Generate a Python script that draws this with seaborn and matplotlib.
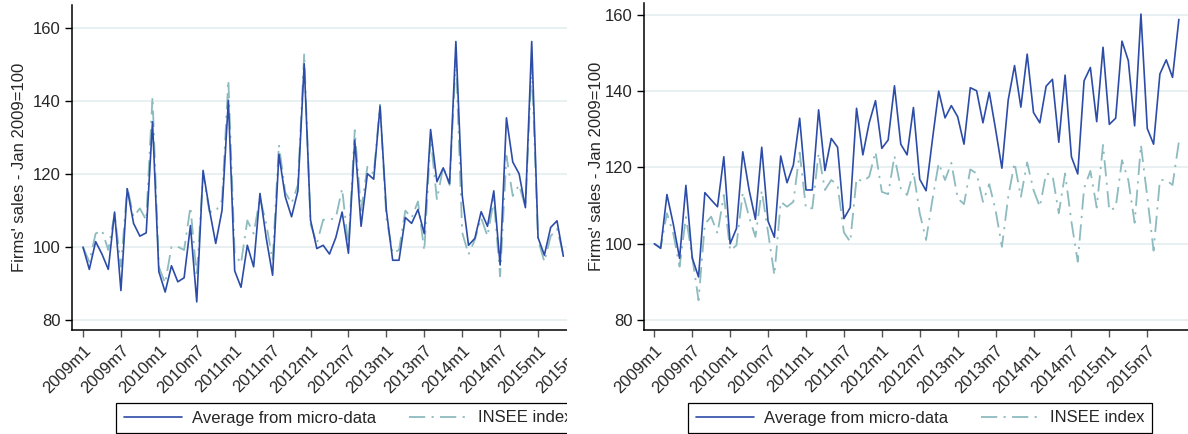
import matplotlib
matplotlib.use("Agg")
import matplotlib.pyplot as plt
from matplotlib.patches import Rectangle
from matplotlib.lines import Line2D
import numpy as np
import pandas as pd
import seaborn as sns

# ---- data: firms' sales index, Jan 2009 = 100 (monthly) ----
tick_labels = ["2009m1", "2009m7", "2010m1", "2010m7", "2011m1", "2011m7",
               "2012m1", "2012m7", "2013m1", "2013m7", "2014m1", "2014m7",
               "2015m1", "2015m7"]

# Left panel: seasonal series
left_micro = [100.0, 93.9, 101.5, 98.1, 93.9, 109.6, 88.1, 116.0, 106.5, 103.0,
              103.9, 134.3, 93.3, 87.7, 94.9, 90.5, 91.6, 105.9, 85.0, 121.0,
              110.3, 101.0, 110.1, 140.2, 93.5, 89.0, 100.5, 94.6, 114.7, 102.4,
              92.3, 125.4, 113.8, 108.3, 115.4, 150.2, 107.4, 99.6, 100.5, 98.1,
              102.6, 109.6, 98.3, 129.3, 105.7, 120.1, 118.6, 138.6, 110.1, 96.4,
              96.4, 108.1, 106.5, 110.3, 103.7, 132.2, 117.9, 121.7, 117.4, 156.3,
              114.2, 100.5, 102.4, 109.7, 105.7, 115.4, 95.1, 135.4, 123.3, 120.1,
              110.8, 156.3, 102.6, 97.8, 105.4, 107.2, 97.5]
left_insee = [100.0, 96.0, 103.7, 104.6, 99.2, 109.2, 94.6, 116.5, 108.3, 110.6,
              107.4, 141.1, 94.6, 90.1, 100.1, 100.1, 99.2, 111.0, 91.9, 120.1,
              109.7, 109.7, 112.9, 145.7, 98.3, 95.5, 107.3, 103.7, 113.5, 106.3,
              96.4, 128.0, 115.0, 112.0, 117.0, 153.0, 106.3, 101.0, 107.5, 107.5,
              108.0, 116.0, 100.1, 132.0, 110.0, 122.0, 120.0, 139.0, 108.0, 98.3,
              99.2, 110.0, 108.0, 112.5, 99.0, 130.0, 113.0, 122.0, 117.0, 152.0,
              104.0, 98.0, 102.0, 108.0, 103.0, 113.0, 92.0, 125.0, 114.0, 117.0,
              111.0, 150.0, 102.0, 96.0, 103.0, 105.0, 98.0]

# Right panel: trending series
right_micro = [100.0, 98.8, 112.9, 105.2, 96.2, 115.3, 96.3, 91.3, 113.4, 111.5,
               109.7, 122.8, 100.0, 104.0, 124.1, 114.1, 106.4, 125.3, 105.9, 101.7,
               123.0, 116.0, 120.6, 132.9, 114.1, 114.1, 135.1, 119.2, 127.6, 125.3,
               106.6, 109.5, 135.5, 123.3, 131.7, 137.5, 125.0, 127.2, 141.4, 126.1,
               123.3, 135.7, 116.9, 113.9, 127.2, 140.0, 133.0, 136.2, 133.3, 126.1,
               140.9, 140.1, 131.7, 139.7, 130.0, 119.8, 137.7, 146.7, 135.8, 149.7,
               134.4, 131.7, 141.3, 143.1, 126.6, 144.2, 122.8, 118.3, 142.7, 146.2,
               132.0, 151.5, 131.3, 132.9, 153.1, 148.0, 130.9, 160.2, 130.2, 126.1,
               144.5, 148.2, 143.6, 158.8]
right_insee = [100.0, 99.0, 108.0, 102.7, 94.0, 107.0, 96.6, 85.2, 105.2, 107.1,
               102.7, 112.8, 98.2, 99.6, 113.4, 107.0, 101.8, 113.9, 103.0, 91.8,
               111.0, 109.7, 111.0, 123.9, 109.3, 109.3, 123.7, 114.1, 116.7, 115.4,
               103.0, 100.5, 117.1, 116.3, 117.6, 124.1, 113.6, 113.0, 123.0, 114.5,
               112.8, 118.9, 108.0, 101.0, 111.5, 121.1, 116.7, 121.2, 111.9, 110.4,
               119.5, 118.4, 111.0, 115.6, 108.8, 99.2, 112.3, 121.2, 112.3, 121.3,
               114.1, 109.7, 118.4, 118.0, 108.0, 118.4, 105.8, 95.3, 114.5, 119.1,
               109.5, 125.9, 108.7, 109.5, 121.9, 116.7, 105.5, 125.9, 112.3, 98.2,
               116.7, 116.7, 115.4, 126.7]

labels = ["Average from micro-data", "INSEE index"]

# ---- style ----
sns.set_theme(style="white")
plt.rcParams["font.family"] = ["Liberation Sans", "DejaVu Sans"]

C_MICRO = "#2C4CA8"
C_INSEE = "#8DBBBF"
GRID = "#E9F0F2"
DASHDOT = (0, (9, 3.5, 1.2, 3.5))

W, H = 1188, 434
fig = plt.figure(figsize=(W / 100, H / 100), dpi=100)


def frac_box(x0, x1, ytop, ybot):
    return [x0 / W, 1 - ybot / H, (x1 - x0) / W, (ybot - ytop) / H]


def draw_panel(ax, micro, insee, xlim, ylim, ylabelpad):
    df = pd.DataFrame({
        "month": np.concatenate([np.arange(len(micro)), np.arange(len(insee))]),
        "value": np.concatenate([micro, insee]),
        "series": [labels[0]] * len(micro) + [labels[1]] * len(insee),
    })
    sns.lineplot(data=df[df.series == labels[1]], x="month", y="value", ax=ax,
                 color=C_INSEE, lw=1.3, linestyle=DASHDOT, legend=False)
    sns.lineplot(data=df[df.series == labels[0]], x="month", y="value", ax=ax,
                 color=C_MICRO, lw=1.2, legend=False)
    ax.set_xlim(*xlim)
    ax.set_ylim(*ylim)
    ax.set_yticks([80, 100, 120, 140, 160])
    ax.yaxis.grid(True, color=GRID, lw=1.4)
    ax.set_axisbelow(True)
    ax.set_xticks(np.arange(len(tick_labels)) * 6)
    ax.set_xticklabels(tick_labels, rotation=45, ha="right",
                       rotation_mode="anchor", fontsize=12)
    ax.tick_params(axis="y", labelsize=12, length=5, width=1, color="black",
                   left=True, pad=3)
    ax.tick_params(axis="x", length=5, width=1, color="#555555", bottom=True,
                   pad=4)
    for s in ["top", "right"]:
        ax.spines[s].set_visible(False)
    for s in ["left", "bottom"]:
        ax.spines[s].set_color("black")
        ax.spines[s].set_linewidth(1.1)
    ax.set_xlabel("")
    ax.set_ylabel("Firms' sales - Jan 2009=100", fontsize=12,
                  labelpad=ylabelpad)


handles = [Line2D([], [], color=C_MICRO, lw=1.2),
           Line2D([], [], color=C_INSEE, lw=1.3, linestyle=DASHDOT)]

ax1 = fig.add_axes(frac_box(72, 586, 5, 330))
draw_panel(ax1, left_micro, left_insee,
           (-1.74, (586 - 83) / 6.32), (77.3, 166.3), ylabelpad=4)
ax1.set_zorder(0)

ax2 = fig.add_axes(frac_box(644, 1188, 3, 330))
draw_panel(ax2, right_micro, right_insee,
           (-1.63, (1188 - 654.3) / 6.32), (77.4, 163.1), ylabelpad=1)
ax2.set_zorder(2)

leg_kw = dict(ncol=2, frameon=True, fancybox=False, fontsize=12,
              handlelength=3.5, handletextpad=0.6, columnspacing=2.0,
              borderpad=0.45, borderaxespad=0, edgecolor="black", framealpha=1)
leg1 = ax1.legend(handles, labels, loc="lower left",
                  bbox_to_anchor=(116 / W, 1 / H, 0.5, 0.1),
                  bbox_transform=fig.transFigure, **leg_kw)
leg1.get_frame().set_linewidth(0.9)
leg2 = ax2.legend(handles, labels, loc="lower left",
                  bbox_to_anchor=(688 / W, 1 / H, 0.5, 0.1),
                  bbox_transform=fig.transFigure, **leg_kw)
leg2.get_frame().set_linewidth(0.9)

# left panel is trimmed on its right side
fig.add_artist(Rectangle((567 / W, 0), 22 / W, 1, transform=fig.transFigure,
                         facecolor="white", edgecolor="none", zorder=1))

fig.savefig("out.png", dpi=100, facecolor="white")
